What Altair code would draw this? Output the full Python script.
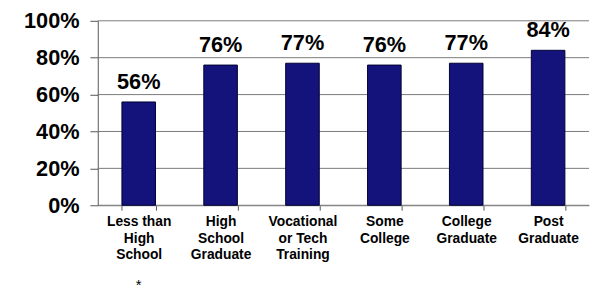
import altair as alt
import pandas as pd

categories = ["Less than\nHigh\nSchool", "High\nSchool\nGraduate", "Vocational\nor Tech\nTraining",
              "Some\nCollege", "College\nGraduate", "Post\nGraduate"]
values = [0.56, 0.76, 0.77, 0.76, 0.77, 0.84]
y_ticks = [0, 0.2, 0.4, 0.6, 0.8, 1.0]
note_category = "Less than\nHigh\nSchool"
note_text = "*"

df = pd.DataFrame({"cat": categories, "val": values})
grid_df = pd.DataFrame({"val": y_ticks})
FONT = "Liberation Sans"

x_axis = alt.Axis(labelExpr="split(datum.label, '\\n')", labelAngle=0,
                  labelFont=FONT, labelFontWeight="bold", labelFontSize=14,
                  labelColor="black", labelLineHeight=16.7, labelPadding=5,
                  labelBaseline="top", tickBand="extent", tickSize=5,
                  tickColor="#555", domainColor="#888", grid=False)
y_axis = alt.Axis(values=y_ticks, format=".0%", labelFont=FONT,
                  labelFontWeight="bold", labelFontSize=22, labelColor="black",
                  labelPadding=11, labelOverlap=False, tickSize=8,
                  tickColor="#555", domainColor="#555", grid=False)
y_scale = alt.Scale(domain=[0, 1], nice=False)

x_enc = alt.X("cat:N", sort=categories, title=None,
              scale=alt.Scale(paddingInner=0.59, paddingOuter=0.295), axis=x_axis)
y_enc = alt.Y("val:Q", title=None, scale=y_scale, axis=y_axis)

grid = alt.Chart(grid_df).mark_rule(color="#7a7a7a", strokeWidth=1).encode(y=y_enc)

base = alt.Chart(df).encode(x=x_enc, y=y_enc)

bars = base.mark_bar(color="#13137B", stroke="#000033", strokeWidth=1)

labels = base.mark_text(font=FONT, fontWeight="bold", fontSize=22,
                        baseline="alphabetic", dy=-13, color="black").encode(
    text=alt.Text("val:Q", format=".0%"))

note_df = pd.DataFrame({"cat": [note_category], "t": [note_text]})
note = alt.Chart(note_df).mark_text(
    font=FONT, fontSize=15, baseline="middle", color="black", clip=False).encode(
    x=x_enc, y=alt.value(268), text="t:N")

chart = alt.layer(grid, bars, labels, note).properties(
    width=498, height=187, background="white",
    autosize=alt.AutoSizeParams(type="none"),
    padding={"left": 91, "top": 11, "right": 3, "bottom": 89},
).configure_view(stroke=None)

chart.save("out.html", embed_options={"renderer": "svg", "actions": False})
